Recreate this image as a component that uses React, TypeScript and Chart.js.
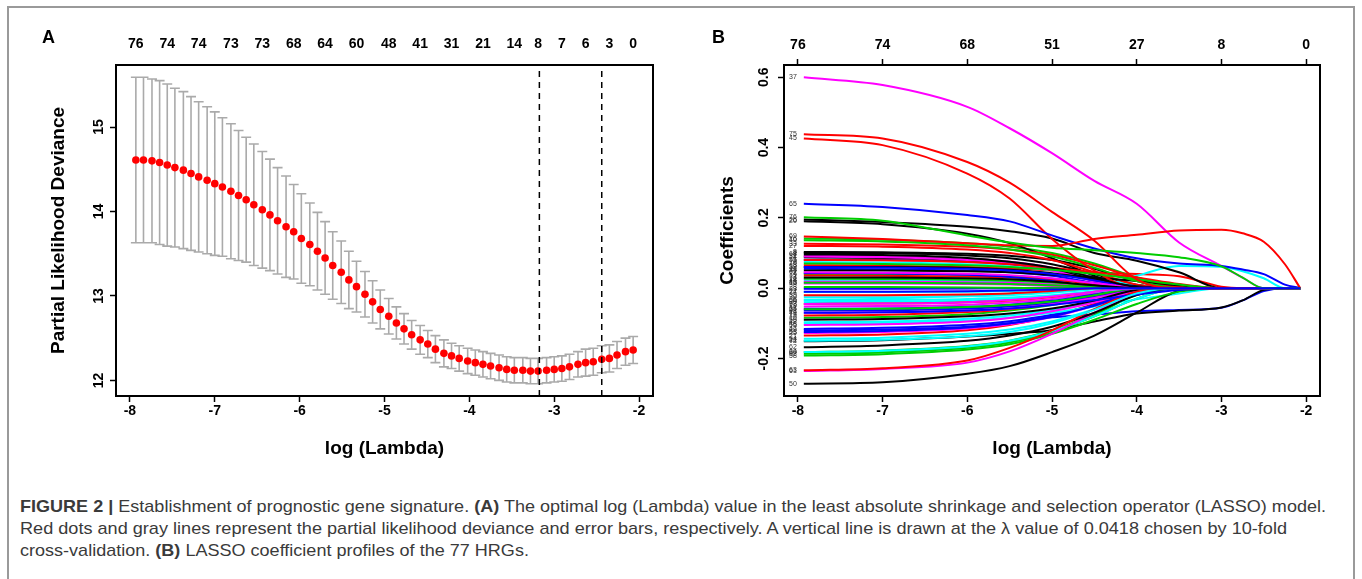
import React, { useEffect, useLayoutEffect, useRef } from 'react';
import { Chart, registerables } from 'chart.js';

Chart.register(...registerables);

const FONT_FAMILY = "'Liberation Sans', Arial, Helvetica, sans-serif";

// ---------------- Panel A: cross-validation curve ----------------
const LOG_LAMBDA = [
  -7.93, -7.84, -7.74, -7.65, -7.56, -7.47, -7.37, -7.28, -7.19, -7.09,
  -7.0, -6.91, -6.81, -6.72, -6.63, -6.54, -6.44, -6.35, -6.26, -6.16,
  -6.07, -5.98, -5.88, -5.79, -5.7, -5.61, -5.51, -5.42, -5.33, -5.23,
  -5.14, -5.05, -4.95, -4.86, -4.77, -4.68, -4.58, -4.49, -4.4, -4.3,
  -4.21, -4.12, -4.02, -3.93, -3.84, -3.75, -3.65, -3.56, -3.47, -3.37,
  -3.28, -3.19, -3.09, -3.0, -2.91, -2.82, -2.72, -2.63, -2.54, -2.44,
  -2.35, -2.26, -2.16, -2.07,
];
const CV_MEAN = [
  14.61, 14.61, 14.6, 14.58, 14.55, 14.52, 14.49, 14.45, 14.41, 14.37,
  14.33, 14.29, 14.24, 14.19, 14.14, 14.08, 14.02, 13.96, 13.89, 13.82,
  13.76, 13.68, 13.61, 13.53, 13.45, 13.36, 13.28, 13.19, 13.11, 13.02,
  12.93, 12.84, 12.76, 12.68, 12.61, 12.54, 12.48, 12.43, 12.37, 12.32,
  12.29, 12.26, 12.23, 12.21, 12.19, 12.17, 12.15, 12.13, 12.12, 12.12,
  12.11, 12.11, 12.12, 12.13, 12.14, 12.16, 12.19, 12.21, 12.22, 12.25,
  12.26, 12.3, 12.34, 12.36,
];
const CV_SE = [
  0.98, 0.98, 0.97, 0.97, 0.96, 0.94, 0.93, 0.91, 0.89, 0.87,
  0.85, 0.82, 0.8, 0.77, 0.74, 0.72, 0.69, 0.66, 0.63, 0.6,
  0.56, 0.53, 0.49, 0.46, 0.43, 0.4, 0.37, 0.34, 0.3, 0.27,
  0.25, 0.23, 0.21, 0.19, 0.18, 0.17, 0.17, 0.16, 0.16, 0.16,
  0.15, 0.15, 0.15, 0.15, 0.15, 0.15, 0.15, 0.15, 0.15, 0.15,
  0.15, 0.15, 0.15, 0.15, 0.15, 0.15, 0.15, 0.16, 0.16, 0.16,
  0.16, 0.16, 0.16, 0.16,
];
const LAMBDA_MIN_LOG = -3.175;
const LAMBDA_1SE_LOG = -2.44;
const A_TOP_POSITIONS = [
  -7.93, -7.56, -7.19, -6.81, -6.44, -6.07, -5.7, -5.33, -4.95,
  -4.58, -4.21, -3.84, -3.47, -3.19, -2.91, -2.63, -2.35, -2.07,
];
const A_TOP_LABELS = ['76', '74', '74', '73', '73', '68', '64', '60', '48', '41', '31', '21', '14', '8', '7', '6', '3', '0'];
const A_Y_TICKS = [12, 13, 14, 15];
const X_TICKS = [-8, -7, -6, -5, -4, -3, -2];

// ---------------- Panel B: coefficient profiles ----------------
const B_LOG_LAMBDA = [-7.93, -7.0, -6.0, -5.5, -5.0, -4.5, -4.0, -3.5, -3.0, -2.75, -2.5, -2.25, -2.07];
const B_TOP_POSITIONS = [-8, -7, -6, -5, -4, -3, -2];
const B_TOP_LABELS = ['76', '74', '68', '51', '27', '8', '0'];
const B_Y_TICKS = [-0.2, 0, 0.2, 0.4, 0.6];
const B_VAR_IDS = [
  1, 2, 3, 4, 5, 6, 7, 8, 9, 10, 11, 12, 13, 14, 15, 16, 17, 18, 19, 20,
  21, 22, 23, 24, 25, 26, 27, 28, 29, 30, 31, 32, 33, 34, 35, 36, 37, 38, 39, 40,
  41, 42, 43, 44, 45, 46, 47, 48, 49, 50, 51, 52, 53, 54, 55, 56, 57, 58, 59, 60,
  61, 62, 63, 64, 65, 66, 67, 68, 69, 70, 71, 72, 73, 74, 75, 76, 77,
];
const B_COEFS = [
  [0, 0, 0, 0, 0, 0, 0, 0, 0, 0, 0, 0, 0],
  [0.1, 0.099, 0.093, 0.085, 0.068, 0.04, 0.01, 0, 0, 0, 0, 0, 0],
  [0.065, 0.064, 0.06, 0.056, 0.05, 0.045, 0.04, 0.034, 0.004, 0, 0, 0, 0],
  [0.04, 0.04, 0.038, 0.034, 0.027, 0.015, 0.002, 0, 0, 0, 0, 0, 0],
  [0.081, 0.08, 0.075, 0.068, 0.055, 0.03, 0.005, 0, 0, 0, 0, 0, 0],
  [-0.033, -0.03, -0.022, -0.015, -0.008, 0, 0.035, 0.063, 0.06, 0.048, 0.028, 0, 0],
  [0.093, 0.091, 0.084, 0.075, 0.058, 0.03, 0.004, 0, 0, 0, 0, 0, 0],
  [0.103, 0.102, 0.098, 0.092, 0.08, 0.055, 0.02, 0, 0, 0, 0, 0, 0],
  [0.036, 0.035, 0.033, 0.03, 0.024, 0.012, 0, 0, 0, 0, 0, 0, 0],
  [-0.084, -0.082, -0.074, -0.064, -0.048, -0.025, -0.003, 0, 0, 0, 0, 0, 0],
  [0.055, 0.054, 0.05, 0.045, 0.035, 0.015, 0, 0, 0, 0, 0, 0, 0],
  [0.074, 0.073, 0.068, 0.062, 0.05, 0.03, 0.008, 0, 0, 0, 0, 0, 0],
  [0.013, 0.013, 0.012, 0.01, 0.006, 0.001, 0, 0, 0, 0, 0, 0, 0],
  [0.088, 0.086, 0.079, 0.07, 0.052, 0.025, 0, 0, 0, 0, 0, 0, 0],
  [-0.078, -0.076, -0.068, -0.06, -0.045, -0.022, 0, 0, 0, 0, 0, 0, 0],
  [0.141, 0.138, 0.128, 0.118, 0.1, 0.07, 0.03, 0, 0, 0, 0, 0, 0],
  [0.043, 0.042, 0.038, 0.032, 0.02, 0.004, 0, 0, 0, 0, 0, 0, 0],
  [0.022, 0.022, 0.02, 0.017, 0.01, 0.002, 0, 0, 0, 0, 0, 0, 0],
  [-0.052, -0.051, -0.047, -0.041, -0.031, -0.015, 0, 0, 0, 0, 0, 0, 0],
  [0.19, 0.182, 0.155, 0.128, 0.085, 0.035, 0, 0, 0, 0, 0, 0, 0],
  [-0.135, -0.132, -0.12, -0.105, -0.08, -0.045, -0.005, 0, 0, 0, 0, 0, 0],
  [0.027, 0.026, 0.024, 0.021, 0.015, 0.006, 0, 0, 0, 0, 0, 0, 0],
  [-0.002, -0.002, -0.001, 0, 0, 0, 0, 0, 0, 0, 0, 0, 0],
  [-0.011, -0.011, -0.01, -0.008, -0.004, 0, 0, 0, 0, 0, 0, 0, 0],
  [-0.128, -0.125, -0.115, -0.103, -0.082, -0.05, -0.012, 0, 0, 0, 0, 0, 0],
  [0.195, 0.188, 0.175, 0.162, 0.141, 0.1, 0.078, 0.045, 0, 0, 0, 0, 0],
  [0.12, 0.118, 0.11, 0.1, 0.08, 0.045, 0.01, 0, 0, 0, 0, 0, 0],
  [0.003, 0.003, 0.002, 0.001, 0, 0, 0, 0, 0, 0, 0, 0, 0],
  [-0.12, -0.118, -0.11, -0.1, -0.083, -0.075, -0.066, -0.062, -0.056, -0.035, -0.008, 0, 0],
  [-0.026, -0.026, -0.023, -0.02, -0.013, -0.004, 0, 0, 0, 0, 0, 0, 0],
  [0.09, 0.088, 0.08, 0.07, 0.05, 0.02, 0, 0, 0, 0, 0, 0, 0],
  [0.06, 0.06, 0.057, 0.052, 0.042, 0.025, 0.005, 0, 0, 0, 0, 0, 0],
  [0.126, 0.124, 0.118, 0.11, 0.095, 0.065, 0.03, 0.003, 0, 0, 0, 0, 0],
  [-0.182, -0.178, -0.165, -0.15, -0.12, -0.075, -0.02, 0, 0, 0, 0, 0, 0],
  [-0.059, -0.058, -0.053, -0.047, -0.036, -0.018, 0, 0, 0, 0, 0, 0, 0],
  [-0.04, -0.039, -0.035, -0.03, -0.022, -0.01, 0, 0, 0, 0, 0, 0, 0],
  [0.6, 0.578, 0.516, 0.455, 0.384, 0.305, 0.24, 0.13, 0.063, 0.03, 0, 0, 0],
  [0.05, 0.05, 0.048, 0.045, 0.038, 0.03, 0.02, 0.008, 0, 0, 0, 0, 0],
  [-0.02, -0.02, -0.018, -0.015, -0.008, 0, 0, 0, 0, 0, 0, 0, 0],
  [0.136, 0.133, 0.122, 0.11, 0.09, 0.058, 0.02, 0, 0, 0, 0, 0, 0],
  [-0.064, -0.063, -0.058, -0.052, -0.042, -0.025, -0.005, 0, 0, 0, 0, 0, 0],
  [-0.097, -0.095, -0.087, -0.078, -0.062, -0.038, -0.01, 0, 0, 0, 0, 0, 0],
  [0.018, 0.018, 0.017, 0.015, 0.01, 0.003, 0, 0, 0, 0, 0, 0, 0],
  [-0.151, -0.148, -0.138, -0.13, -0.12, -0.095, -0.072, -0.064, -0.055, -0.035, -0.005, 0, 0],
  [0.426, 0.407, 0.326, 0.255, 0.14, 0.05, 0, 0, 0, 0, 0, 0, 0],
  [0.015, 0.015, 0.014, 0.012, 0.008, 0.003, 0, 0, 0, 0, 0, 0, 0],
  [-0.116, -0.113, -0.104, -0.094, -0.076, -0.048, -0.012, 0, 0, 0, 0, 0, 0],
  [-0.101, -0.099, -0.092, -0.084, -0.07, -0.052, -0.032, -0.015, 0, 0, 0, 0, 0],
  [-0.07, -0.069, -0.064, -0.058, -0.046, -0.028, -0.005, 0, 0, 0, 0, 0, 0],
  [-0.272, -0.268, -0.244, -0.222, -0.182, -0.135, -0.07, -0.008, 0, 0, 0, 0, 0],
  [0.08, 0.079, 0.074, 0.068, 0.058, 0.045, 0.03, 0.012, 0, 0, 0, 0, 0],
  [-0.187, -0.183, -0.17, -0.155, -0.125, -0.08, -0.03, 0, 0, 0, 0, 0, 0],
  [-0.125, -0.122, -0.112, -0.1, -0.08, -0.05, -0.015, 0, 0, 0, 0, 0, 0],
  [-0.144, -0.141, -0.13, -0.118, -0.095, -0.06, -0.018, 0, 0, 0, 0, 0, 0],
  [-0.105, -0.103, -0.095, -0.085, -0.066, -0.04, -0.008, 0, 0, 0, 0, 0, 0],
  [-0.09, -0.088, -0.08, -0.072, -0.058, -0.035, -0.005, 0, 0, 0, 0, 0, 0],
  [-0.045, -0.044, -0.04, -0.035, -0.025, -0.01, 0, 0, 0, 0, 0, 0, 0],
  [-0.192, -0.188, -0.175, -0.16, -0.13, -0.09, -0.045, -0.01, 0, 0, 0, 0, 0],
  [0.06, 0.059, 0.055, 0.05, 0.04, 0.022, 0.003, 0, 0, 0, 0, 0, 0],
  [-0.182, -0.178, -0.166, -0.15, -0.122, -0.08, -0.03, 0, 0, 0, 0, 0, 0],
  [-0.236, -0.23, -0.212, -0.18, -0.13, -0.07, -0.015, 0, 0, 0, 0, 0, 0],
  [-0.168, -0.163, -0.15, -0.135, -0.11, -0.07, -0.02, 0, 0, 0, 0, 0, 0],
  [-0.234, -0.228, -0.206, -0.17, -0.12, -0.06, -0.01, 0, 0, 0, 0, 0, 0],
  [-0.06, -0.059, -0.054, -0.048, -0.038, -0.02, 0, 0, 0, 0, 0, 0, 0],
  [0.24, 0.231, 0.208, 0.19, 0.15, 0.113, 0.085, 0.07, 0.063, 0.053, 0.04, 0.01, 0],
  [-0.035, -0.034, -0.031, -0.027, -0.02, -0.01, 0, 0, 0, 0, 0, 0, 0],
  [0.045, 0.044, 0.041, 0.037, 0.028, 0.014, 0.002, 0, 0, 0, 0, 0, 0],
  [0.096, 0.094, 0.086, 0.075, 0.058, 0.03, 0.003, 0, 0, 0, 0, 0, 0],
  [0.147, 0.14, 0.128, 0.122, 0.12, 0.14, 0.152, 0.164, 0.166, 0.156, 0.132, 0.068, 0],
  [0.07, 0.069, 0.065, 0.06, 0.052, 0.04, 0.025, 0.01, 0, 0, 0, 0, 0],
  [-0.07, -0.069, -0.064, -0.058, -0.048, -0.034, -0.018, -0.005, 0, 0, 0, 0, 0],
  [-0.15, -0.147, -0.137, -0.125, -0.1, -0.062, -0.015, 0, 0, 0, 0, 0, 0],
  [-0.045, -0.044, -0.04, -0.034, -0.024, -0.01, 0, 0, 0, 0, 0, 0, 0],
  [0.03, 0.03, 0.028, 0.025, 0.018, 0.008, 0, 0, 0, 0, 0, 0, 0],
  [0.438, 0.426, 0.359, 0.3, 0.217, 0.135, 0.025, 0, 0, 0, 0, 0, 0],
  [0.202, 0.192, 0.15, 0.13, 0.115, 0.108, 0.1, 0.088, 0.062, 0.03, 0, 0, 0],
  [-0.01, -0.01, -0.009, -0.007, -0.004, 0, 0, 0, 0, 0, 0, 0, 0],
];

// R default palette 1..6 (black, red, green3, blue, cyan, magenta)
const R_PALETTE = ['#000000', '#FF0000', '#00CD00', '#0000FF', '#00FFFF', '#FF00FF'];

// axis limits (R: 4% extension of data range)
const X_MIN = -8.164;
const X_MAX = -1.836;
const A_Y_MIN = 11.815;
const A_Y_MAX = 15.735;
const B_Y_MIN = -0.307;
const B_Y_MAX = 0.635;
const CAP_HALF = 0.0586;

const tickFont = { family: FONT_FAMILY, size: 14, weight: 'bold' as const };
const titleFont = { family: FONT_FAMILY, size: 19, weight: 'bold' as const };

const setTicks = (values: number[]) => (scale: any) => {
  scale.ticks = values.map((v) => ({ value: v }));
};

const tickGrid = {
  display: true,
  drawOnChartArea: false,
  drawTicks: true,
  tickLength: 6,
  tickColor: '#000',
  tickWidth: 1.5,
};

const boxPlugin = {
  id: 'rBox',
  afterDraw(chart: any) {
    const { ctx, chartArea: a } = chart;
    ctx.save();
    ctx.strokeStyle = '#000';
    ctx.lineWidth = 2;
    ctx.strokeRect(a.left, a.top, a.right - a.left, a.bottom - a.top);
    ctx.restore();
  },
};

const varLabelPlugin = {
  id: 'varLabels',
  afterDatasetsDraw(chart: any) {
    const { ctx, scales } = chart;
    const x = scales.x.getPixelForValue(B_LOG_LAMBDA[0]) - 7;
    ctx.save();
    ctx.font = `7px ${FONT_FAMILY}`;
    ctx.fillStyle = '#333';
    ctx.textAlign = 'right';
    ctx.textBaseline = 'middle';
    B_VAR_IDS.forEach((id, i) => {
      const v = B_COEFS[i][0];
      if (v === 0) return;
      ctx.fillText(String(id), x, scales.y.getPixelForValue(v));
    });
    ctx.restore();
  },
};

function buildA(): any {
  const barData: any[] = [];
  LOG_LAMBDA.forEach((x, i) => {
    const up = CV_MEAN[i] + CV_SE[i];
    const lo = CV_MEAN[i] - CV_SE[i];
    barData.push(
      { x, y: lo }, { x, y: up }, { x, y: null },
      { x: x - CAP_HALF, y: up }, { x: x + CAP_HALF, y: up }, { x, y: null },
      { x: x - CAP_HALF, y: lo }, { x: x + CAP_HALF, y: lo }, { x, y: null },
    );
  });
  const vline = (v: number) => ({
    data: [{ x: v, y: A_Y_MIN }, { x: v, y: A_Y_MAX }],
    borderColor: '#000',
    borderWidth: 1.5,
    borderDash: [6, 5],
    pointRadius: 0,
    order: 0,
  });
  return {
    type: 'line',
    data: {
      datasets: [
        vline(LAMBDA_MIN_LOG),
        vline(LAMBDA_1SE_LOG),
        {
          data: LOG_LAMBDA.map((x, i) => ({ x, y: CV_MEAN[i] })),
          showLine: false,
          pointRadius: 3.8,
          pointBackgroundColor: '#FF0000',
          pointBorderColor: '#FF0000',
          pointBorderWidth: 0,
          order: 1,
        },
        {
          data: barData,
          borderColor: '#AAAAAA',
          borderWidth: 1.6,
          pointRadius: 0,
          spanGaps: false,
          order: 2,
        },
      ],
    },
    options: {
      animation: false,
      responsive: false,
      maintainAspectRatio: false,
      layout: { padding: { left: 0, right: 28, top: 0, bottom: 0 } },
      plugins: { legend: { display: false }, tooltip: { enabled: false } },
      scales: {
        x: {
          type: 'linear', position: 'bottom', min: X_MIN, max: X_MAX,
          afterBuildTicks: setTicks(X_TICKS),
          afterFit: (s: any) => { s.height = 84; },
          border: { display: false },
          grid: tickGrid,
          ticks: { font: tickFont, color: '#000', padding: 1, maxRotation: 0, autoSkip: false },
          title: { display: true, text: 'log (Lambda)', font: titleFont, color: '#000', padding: { top: 0, bottom: 19.6 } },
        },
        xTop: {
          type: 'linear', position: 'top', min: X_MIN, max: X_MAX,
          afterBuildTicks: setTicks(A_TOP_POSITIONS),
          afterFit: (s: any) => { s.height = 65; },
          border: { display: false },
          grid: { display: false, drawTicks: false },
          ticks: {
            font: tickFont, color: '#000', padding: 12, maxRotation: 0, autoSkip: false,
            callback: (_v: any, i: number) => A_TOP_LABELS[i],
          },
        },
        y: {
          type: 'linear', position: 'left', min: A_Y_MIN, max: A_Y_MAX,
          afterBuildTicks: setTicks(A_Y_TICKS),
          afterFit: (s: any) => { s.width = 116; },
          border: { display: false },
          grid: tickGrid,
          ticks: { font: tickFont, color: '#000', padding: 3, minRotation: 90, maxRotation: 90, crossAlign: 'center', autoSkip: false },
          title: { display: true, text: 'Partial Likelihood Deviance', font: titleFont, color: '#000', padding: { top: 47.6, bottom: 0 } },
        },
      },
    },
    plugins: [boxPlugin],
  };
}

function buildB(): any {
  const datasets = B_VAR_IDS.map((id, i) => ({
    data: B_LOG_LAMBDA.map((x, j) => ({ x, y: B_COEFS[i][j] })),
    borderColor: R_PALETTE[(id + 4) % 6],
    borderWidth: 2,
    pointRadius: 0,
    cubicInterpolationMode: 'monotone',
    order: 100 - id,
  }));
  return {
    type: 'line',
    data: { datasets },
    options: {
      animation: false,
      responsive: false,
      maintainAspectRatio: false,
      layout: { padding: { left: 0, right: 42, top: 0, bottom: 0 } },
      plugins: { legend: { display: false }, tooltip: { enabled: false } },
      scales: {
        x: {
          type: 'linear', position: 'bottom', min: X_MIN, max: X_MAX,
          afterBuildTicks: setTicks(X_TICKS),
          afterFit: (s: any) => { s.height = 84; },
          border: { display: false },
          grid: tickGrid,
          ticks: { font: tickFont, color: '#000', padding: 1, maxRotation: 0, autoSkip: false },
          title: { display: true, text: 'log (Lambda)', font: titleFont, color: '#000', padding: { top: 0, bottom: 19.6 } },
        },
        xTop: {
          type: 'linear', position: 'top', min: X_MIN, max: X_MAX,
          afterBuildTicks: setTicks(B_TOP_POSITIONS),
          afterFit: (s: any) => { s.height = 65; },
          border: { display: false },
          grid: tickGrid,
          ticks: {
            font: tickFont, color: '#000', padding: 5.6, maxRotation: 0, autoSkip: false,
            callback: (_v: any, i: number) => B_TOP_LABELS[i],
          },
        },
        y: {
          type: 'linear', position: 'left', min: B_Y_MIN, max: B_Y_MAX,
          afterBuildTicks: setTicks(B_Y_TICKS),
          afterFit: (s: any) => { s.width = 103; },
          border: { display: false },
          grid: tickGrid,
          ticks: {
            font: tickFont, color: '#000', padding: 2, minRotation: 90, maxRotation: 90, crossAlign: 'center', autoSkip: false,
            callback: (v: any) => Number(v).toFixed(1),
          },
          title: { display: true, text: 'Coefficients', font: titleFont, color: '#000', padding: { top: 35.6, bottom: 0 } },
        },
      },
    },
    plugins: [boxPlugin, varLabelPlugin],
  };
}

const CAPTION_TARGET_WIDTHS = [1306, 1267, 0];
const CAPTION_TOPS = [497, 519, 541];

export default function App() {
  const aRef = useRef<HTMLCanvasElement>(null);
  const bRef = useRef<HTMLCanvasElement>(null);
  const capRefs = useRef<(HTMLDivElement | null)[]>([]);

  useEffect(() => {
    const chartA = new Chart(aRef.current as HTMLCanvasElement, buildA());
    const chartB = new Chart(bRef.current as HTMLCanvasElement, buildB());
    return () => {
      chartA.destroy();
      chartB.destroy();
    };
  }, []);

  useLayoutEffect(() => {
    const fit = () => {
      const scales: number[] = [];
      CAPTION_TARGET_WIDTHS.forEach((target, i) => {
        const el = capRefs.current[i];
        if (!el) return;
        el.style.transform = 'none';
        const w = el.getBoundingClientRect().width;
        const s = target > 0 && w > 0 ? target / w : scales[0] || 1;
        scales.push(s);
        el.style.transform = `scaleX(${s})`;
      });
    };
    fit();
    const fonts: any = (document as any).fonts;
    if (fonts && fonts.ready) fonts.ready.then(fit);
  }, []);

  const capStyle = (i: number): React.CSSProperties => ({
    position: 'absolute',
    left: 20,
    top: CAPTION_TOPS[i],
    whiteSpace: 'nowrap',
    fontFamily: FONT_FAMILY,
    fontSize: 17,
    lineHeight: '20px',
    color: '#3a3a3a',
    transformOrigin: 'left center',
  });

  const letterStyle = (left: number): React.CSSProperties => ({
    position: 'absolute',
    left,
    top: 28,
    fontFamily: FONT_FAMILY,
    fontWeight: 'bold',
    fontSize: 18,
    lineHeight: '18px',
    color: '#000',
  });

  return (
    <div
      style={{
        position: 'fixed',
        left: 0,
        top: 0,
        width: 1362,
        height: 579,
        overflow: 'hidden',
        background: '#fff',
      }}
    >
      <div
        style={{
          position: 'absolute',
          left: 7,
          top: 6,
          width: 1348,
          height: 700,
          border: '2px solid #9a9a9a',
          boxSizing: 'border-box',
        }}
      />
      <canvas ref={aRef} width={681} height={480} style={{ position: 'absolute', left: 0, top: 0, display: 'block' }} />
      <canvas ref={bRef} width={681} height={480} style={{ position: 'absolute', left: 681, top: 0, display: 'block' }} />
      <div style={letterStyle(42)}>A</div>
      <div style={letterStyle(712)}>B</div>
      <div ref={(el) => { capRefs.current[0] = el; }} style={capStyle(0)}>
        <b>FIGURE 2 |</b> Establishment of prognostic gene signature. <b>(A)</b> The optimal log (Lambda) value in the least absolute shrinkage and selection operator (LASSO) model.
      </div>
      <div ref={(el) => { capRefs.current[1] = el; }} style={capStyle(1)}>
        Red dots and gray lines represent the partial likelihood deviance and error bars, respectively. A vertical line is drawn at the λ value of 0.0418 chosen by 10-fold
      </div>
      <div ref={(el) => { capRefs.current[2] = el; }} style={capStyle(2)}>
        cross-validation. <b>(B)</b> LASSO coefficient profiles of the 77 HRGs.
      </div>
    </div>
  );
}
